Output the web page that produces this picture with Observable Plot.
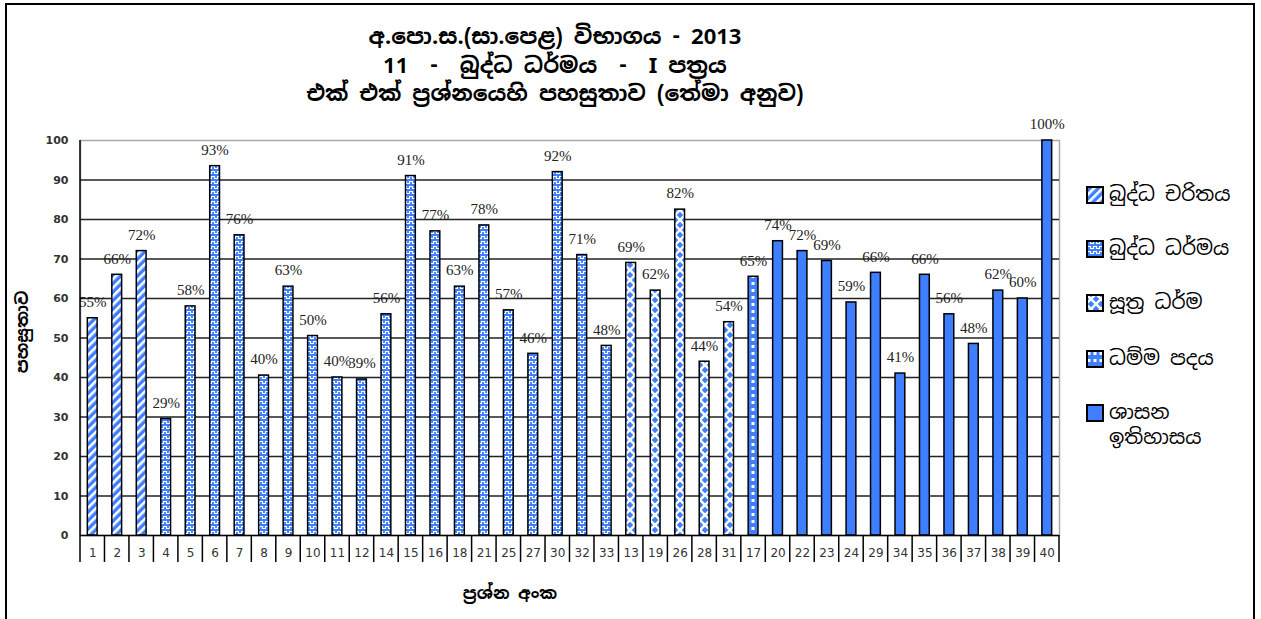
<!DOCTYPE html>
<html>
<head>
<meta charset="utf-8">
<script src="https://cdn.jsdelivr.net/npm/d3@7"></script>
<script src="https://cdn.jsdelivr.net/npm/@observablehq/plot@0.6"></script>
<style>
  html, body { margin: 0; padding: 0; background: #fff; }
  body { width: 1261px; height: 619px; overflow: hidden; position: relative; }
  #chart { position: absolute; left: 0; top: 0; }
  .frame { position: absolute; left: 5px; top: 3px; width: 1246px; height: 700px; border: 2px solid #000; pointer-events: none; }
  .title { position: absolute; left: 0; width: 1110px; text-align: center; font-family: "Noto Sans Sinhala", "Iskoola Pota", "Liberation Serif", serif; font-weight: bold; font-size: 22px; color: #000; white-space: pre; }
  .ylab { position: absolute; left: 22px; top: 332px; transform: translate(-50%, -50%) rotate(-90deg); font-family: "Noto Sans Sinhala", "Liberation Serif", serif; font-weight: bold; font-size: 17px; white-space: nowrap; }
  .xlab { position: absolute; left: 510px; top: 593px; transform: translate(-50%, -50%); font-family: "Noto Sans Sinhala", "Liberation Serif", serif; font-weight: bold; font-size: 17px; white-space: nowrap; }
  .legend { position: absolute; left: 1086px; top: 0; font-family: "Noto Sans Sinhala", "Liberation Sans", sans-serif; font-size: 20px; color: #000; }
  .item { position: absolute; left: 0; display: flex; align-items: flex-start; white-space: nowrap; }
  .item svg { flex: none; margin-right: 5px; }
  .item span { line-height: 25px; margin-top: -4px; }
</style>
</head>
<body>
<svg width="0" height="0" style="position:absolute">
  <defs>
    <pattern id="pat0" patternUnits="userSpaceOnUse" width="6" height="6" patternTransform="rotate(45)">
      <rect width="6" height="6" fill="#3f7fff"/>
      <rect width="2.6" height="6" fill="#fff"/>
    </pattern>
    <pattern id="pat1" patternUnits="userSpaceOnUse" width="6" height="5">
      <rect width="6" height="5" fill="#3f7fff"/>
      <path d="M0,3.5 L1.5,3.5 L1.5,1.5 L4.5,1.5 L4.5,3.5 L6,3.5" fill="none" stroke="#fff" stroke-width="1.1"/>
    </pattern>
    <pattern id="pat2" patternUnits="userSpaceOnUse" width="10" height="10">
      <rect width="10" height="10" fill="#3f7fff"/>
      <path d="M0,0 L10,10 M10,0 L0,10" stroke="#fff" stroke-width="2.4"/>
    </pattern>
    <pattern id="pat3" patternUnits="userSpaceOnUse" width="6" height="7">
      <rect width="6" height="7" fill="#3f7fff"/>
      <rect x="1.5" y="2" width="3" height="3" fill="#fff"/>
    </pattern>
    <pattern id="pat4" patternUnits="userSpaceOnUse" width="4" height="4">
      <rect width="4" height="4" fill="#3f7fff"/>
    </pattern>
  </defs>
</svg>
<div id="chart"></div>
<div class="title" style="top:22px">අ.පො.ස.(සා.පෙළ) විභාගය - 2013</div>
<div class="title" style="top:51px">11  -  බුද්ධ ධර්මය  -  I පත්‍රය</div>
<div class="title" style="top:79px">එක් එක් ප්‍රශ්නයෙහි පහසුතාව (තේමා අනුව)</div>
<div class="ylab">පහසුතාව</div>
<div class="xlab">ප්‍රශ්න අංක</div>
<div class="legend" id="legend"></div>
<div class="frame"></div>
<script>
// ---- data ----
const categories = ["1","2","3","4","5","6","7","8","9","10","11","12","14","15","16","18","21","25","27","30","32","33","13","19","26","28","31","17","20","22","23","24","29","34","35","36","37","38","39","40"];
const values = [55,66,72,29.5,58,93.5,76,40.5,63,50.5,40,39.5,56,91,77,63,78.5,57,46,92,71,48,69,62,82.5,44,54,65.5,74.5,72,69.5,59,66.5,41,66,56,48.5,62,60,100];
const labels = ["55%","66%","72%","29%","58%","93%","76%","40%","63%","50%","40%","39%","56%","91%","77%","63%","78%","57%","46%","92%","71%","48%","69%","62%","82%","44%","54%","65%","74%","72%","69%","59%","66%","41%","66%","56%","48%","62%","60%","100%"];
const themeNames = ["බුද්ධ චරිතය","බුද්ධ ධර්මය","සූත්‍ර ධර්ම","ධම්ම පදය","ශාසන\nඉතිහාසය"];
const themeCounts = [3,19,5,1,12];
const yTicks = [0,10,20,30,40,50,60,70,80,90,100];

// build table
const themeOf = [];
themeCounts.forEach((n, t) => { for (let i = 0; i < n; i++) themeOf.push(t); });
const data = categories.map((c, i) => ({q: c, v: values[i], label: labels[i], theme: themeOf[i]}));

const barMarks = themeNames.map((name, t) =>
  Plot.barY(data.filter(d => d.theme === t), {
    x: "q", y: "v", fill: `url(#pat${t})`, stroke: "#000", strokeWidth: 1.5
  })
);

const plot = Plot.plot({
  width: 1261,
  height: 619,
  marginLeft: 80,
  marginRight: 202,
  marginTop: 140,
  marginBottom: 84,
  style: {background: "transparent"},
  x: {type: "band", domain: categories, paddingInner: 0.6, paddingOuter: 0.3, align: 0.5, round: false, label: null},
  y: {domain: [0, 100], label: null},
  marks: [
    Plot.frame({stroke: "#aaa", strokeWidth: 1.5}),
    Plot.gridY(yTicks.filter(d => d > 0 && d < 100), {stroke: "#222", strokeOpacity: 1, strokeWidth: 1.5}),
    ...barMarks,
    Plot.ruleY([0], {stroke: "#000", strokeWidth: 1.5}),
    Plot.axisY(yTicks, {tickSize: 6, tickPadding: 6, fontSize: 11, fontWeight: "bold", fill: "#333", stroke: null,
      fontFamily: "DejaVu Sans, sans-serif", label: null, tickFormat: d => d}),
    Plot.axisX({tickSize: 0, tickPadding: 13, fontSize: 12, fill: "#333", fontFamily: "DejaVu Sans, sans-serif", label: null}),
    Plot.text(data, {x: "q", y: "v", text: "label", dy: -16, fontSize: 15, fill: "#222",
      fontFamily: "Liberation Serif, Times New Roman, serif"})
  ]
});
document.getElementById("chart").appendChild(plot);

// axis lines and category separators from the plot's scales
const xs = plot.scale("x"), ysc = plot.scale("y");
const svg = d3.select(plot);
const g = svg.append("g").attr("stroke", "#000").attr("stroke-width", 1.5);
const y0 = ysc.apply(0), y100 = ysc.apply(100);
const [r0, r1] = xs.range;
const edges = [r0];
for (let i = 1; i < categories.length; i++) {
  edges.push((xs.apply(categories[i - 1]) + xs.bandwidth + xs.apply(categories[i])) / 2);
}
edges.push(r1);
g.append("line").attr("x1", r0).attr("x2", r0).attr("y1", y100).attr("y2", y0 + 27);
edges.slice(1).forEach(x => g.append("line").attr("x1", x).attr("x2", x).attr("y1", y0).attr("y2", y0 + 27));

// legend
const legend = document.getElementById("legend");
const tops = [186, 240, 294, 350, 404];
themeNames.forEach((name, t) => {
  const item = document.createElement("div");
  item.className = "item";
  item.style.top = tops[t] + "px";
  item.innerHTML = `<svg width="18" height="18"><rect x="1" y="1" width="16" height="16" fill="url(#pat${t})" stroke="#000" stroke-width="2"/></svg><span style="white-space:pre">${name}</span>`;
  legend.appendChild(item);
});
</script>
</body>
</html>
